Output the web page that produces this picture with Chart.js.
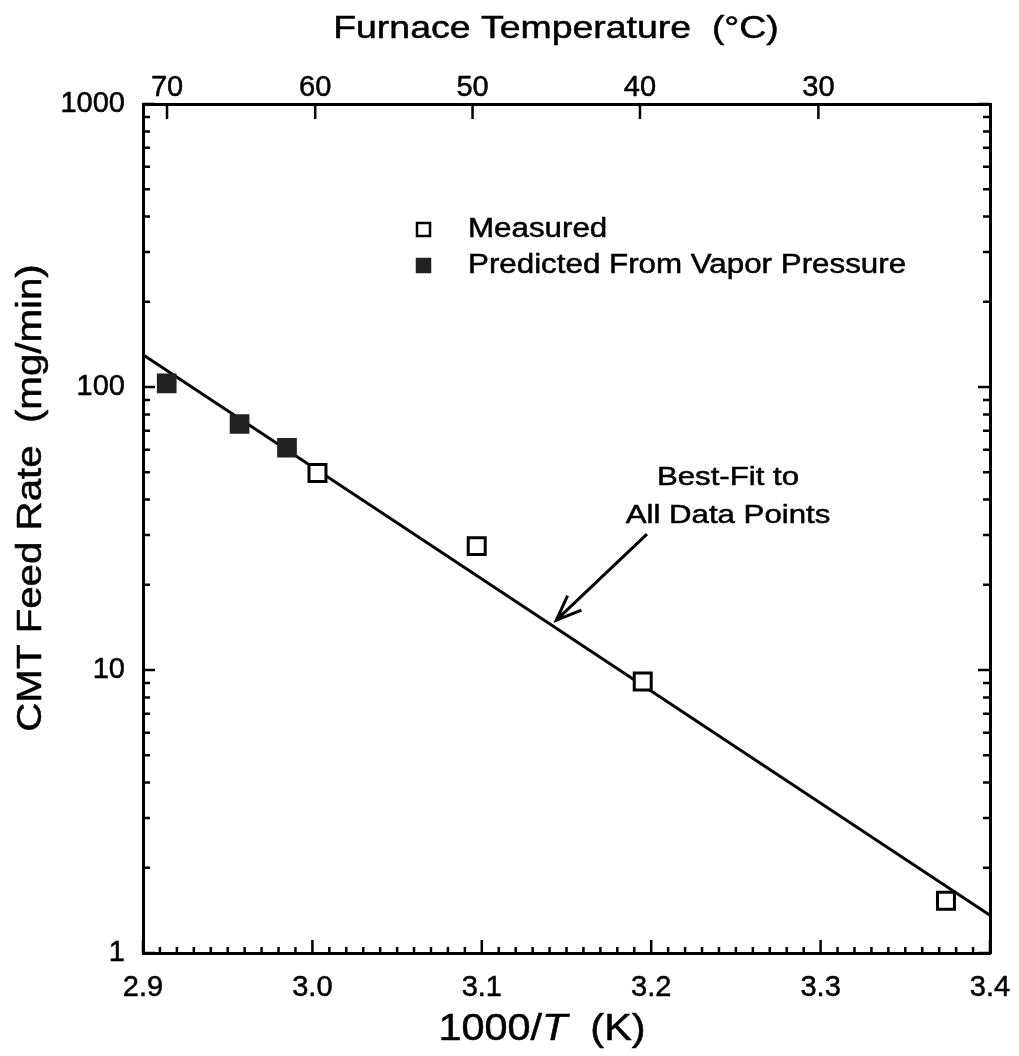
<!DOCTYPE html>
<html>
<head>
<meta charset="utf-8">
<script src="https://cdn.jsdelivr.net/npm/chart.js@4.4.1/dist/chart.umd.min.js"></script>
<style>
  html, body { margin: 0; padding: 0; background: #fff; }
  canvas { display: block; }
</style>
</head>
<body>
<canvas id="chart" width="1019" height="1056"></canvas>
<script>
// Data
const measuredX = [3.003, 3.097, 3.195, 3.374];
const measuredY = [49.7, 27.4, 9.1, 1.53];
const predictedX = [2.914, 2.957, 2.985];
const predictedY = [103, 74, 61];
const fitX = [2.9, 3.4];
const fitY = [130, 1.36];

// Tick labels
const xTickLabels = ['2.9', '3.0', '3.1', '3.2', '3.3', '3.4'];
const yTickLabels = ['1', '10', '100', '1000'];
const tempLabels = ['70', '60', '50', '40', '30'];

// Annotation arrow (data coords: tail, head)
const arrowTail = [3.1975, 30.2];
const arrowHead = [3.144, 15.0];

const FONT = '"Liberation Sans", Arial, sans-serif';

function toPoints(xs, ys) {
  return xs.map((x, i) => ({ x: x, y: ys[i] }));
}

// 1000/T (K) position of a temperature in degrees C
function tempToX(t) {
  return 1000 / (Number(t) + 273.15);
}

// the scanned lettering is wider and a bit heavier than Liberation Sans
function wideText(ctx, text, x, y, font, align, stretch) {
  ctx.save();
  ctx.translate(x, y);
  ctx.scale(stretch, 1);
  ctx.font = font;
  ctx.textAlign = align;
  ctx.textBaseline = 'middle';
  ctx.fillStyle = '#000';
  ctx.strokeStyle = '#000';
  ctx.lineWidth = 0.5;
  ctx.fillText(text, 0, 0);
  ctx.strokeText(text, 0, 0);
  ctx.restore();
}

/**
 * Inward tick marks, legend, axis titles and the arrow note
 */
const decorations = {
  id: 'decorations',
  afterDraw(chart) {
    const { ctx, chartArea: a, scales } = chart;
    const x = scales.x, xt = scales.xTop, y = scales.y;
    ctx.save();
    ctx.strokeStyle = '#000';
    ctx.fillStyle = '#000';
    ctx.lineWidth = 2.5;
    ctx.beginPath();

    // bottom axis: majors at labels, minors every tenth
    const xs = xTickLabels.map(Number);
    xs.forEach((v, i) => {
      const px = x.getPixelForValue(v);
      ctx.moveTo(px, a.bottom); ctx.lineTo(px, a.bottom - 13);
      if (i < xs.length - 1) {
        const step = (xs[i + 1] - v) / 10;
        for (let k = 1; k < 10; k++) {
          const pm = x.getPixelForValue(v + k * step);
          ctx.moveTo(pm, a.bottom); ctx.lineTo(pm, a.bottom - 6);
        }
      }
    });

    // top axis: furnace temperatures
    tempLabels.forEach(t => {
      const px = xt.getPixelForValue(tempToX(t));
      ctx.moveTo(px, a.top); ctx.lineTo(px, a.top + 15);
    });

    // left and right log axes
    const ys = yTickLabels.map(Number);
    ys.forEach((d, i) => {
      const py = y.getPixelForValue(d);
      ctx.moveTo(a.left, py); ctx.lineTo(a.left + 12, py);
      ctx.moveTo(a.right, py); ctx.lineTo(a.right - 12, py);
      if (i < ys.length - 1) {
        for (let k = 2; k < 10; k++) {
          const pm = y.getPixelForValue(d * k);
          ctx.moveTo(a.left, pm); ctx.lineTo(a.left + 7, pm);
          ctx.moveTo(a.right, pm); ctx.lineTo(a.right - 7, pm);
        }
      }
    });
    ctx.stroke();

    // legend
    const rows = [chart.data.datasets[1], chart.data.datasets[2]];
    rows.forEach((ds, i) => {
      const cy = 230 + i * 36;
      ctx.lineWidth = 2.5;
      ctx.fillStyle = ds.backgroundColor;
      ctx.strokeStyle = ds.borderColor;
      ctx.fillRect(417, cy - 7, 13, 13);
      ctx.strokeRect(417, cy - 7, 13, 13);
      wideText(ctx, ds.label, 468, cy, '27px ' + FONT, 'left', 1.16);
    });

    // best-fit note and arrow
    wideText(ctx, 'Best-Fit to', 728, 478, '26px ' + FONT, 'center', 1.2);
    wideText(ctx, 'All Data Points', 728, 516, '26px ' + FONT, 'center', 1.2);
    const tx = x.getPixelForValue(arrowTail[0]), ty = y.getPixelForValue(arrowTail[1]);
    const hx = x.getPixelForValue(arrowHead[0]), hy = y.getPixelForValue(arrowHead[1]);
    const ang = Math.atan2(ty - hy, tx - hx);
    ctx.lineWidth = 3;
    ctx.strokeStyle = '#000';
    ctx.beginPath();
    ctx.moveTo(tx, ty); ctx.lineTo(hx, hy);
    ctx.moveTo(hx + 27 * Math.cos(ang - 0.38), hy + 27 * Math.sin(ang - 0.38));
    ctx.lineTo(hx, hy);
    ctx.lineTo(hx + 27 * Math.cos(ang + 0.38), hy + 27 * Math.sin(ang + 0.38));
    ctx.stroke();

    // top title
    wideText(ctx, 'Furnace Temperature  (\u00B0C)', 556, 29, '32px ' + FONT, 'center', 1.17);

    // bottom title with italic T
    const stretch = 1.15;
    const p1 = '1000/', p2 = 'T', p3 = '  (K)';
    ctx.font = '36px ' + FONT;
    const w1 = ctx.measureText(p1).width, w3 = ctx.measureText(p3).width;
    ctx.font = 'italic 36px ' + FONT;
    const w2 = ctx.measureText(p2).width;
    const sx = 542 - (w1 + w2 + w3) * stretch / 2;
    wideText(ctx, p1, sx, 1030, '36px ' + FONT, 'left', stretch);
    wideText(ctx, p2, sx + w1 * stretch, 1030, 'italic 36px ' + FONT, 'left', stretch);
    wideText(ctx, p3, sx + (w1 + w2) * stretch, 1030, '36px ' + FONT, 'left', stretch);

    // left title, rotated
    ctx.translate(31, 498);
    ctx.rotate(-Math.PI / 2);
    wideText(ctx, 'CMT Feed Rate  (mg/min)', 0, 0, '35px ' + FONT, 'center', 1.15);
    ctx.restore();
  }
};

const tickFont = { family: FONT, size: 29 };

const chart = new Chart(document.getElementById('chart'), {
  data: {
    datasets: [
      {
        type: 'line',
        label: 'Best-Fit to All Data Points',
        data: toPoints(fitX, fitY),
        borderColor: '#000',
        borderWidth: 3,
        pointRadius: 0,
        order: 3
      },
      {
        type: 'scatter',
        label: 'Measured',
        data: toPoints(measuredX, measuredY),
        pointStyle: 'rect',
        pointRadius: 12,
        backgroundColor: '#fff',
        borderColor: '#000',
        borderWidth: 3,
        order: 1
      },
      {
        type: 'scatter',
        label: 'Predicted From Vapor Pressure',
        data: toPoints(predictedX, predictedY),
        pointStyle: 'rect',
        pointRadius: 12.5,
        backgroundColor: '#222',
        borderColor: '#222',
        borderWidth: 2,
        order: 2
      }
    ]
  },
  options: {
    responsive: false,
    animation: false,
    devicePixelRatio: 1,
    layout: { padding: 0 },
    plugins: {
      legend: { display: false },
      tooltip: { enabled: false }
    },
    scales: {
      x: {
        type: 'linear',
        position: 'bottom',
        min: 2.9,
        max: 3.4,
        afterBuildTicks: s => { s.ticks = xTickLabels.map(v => ({ value: Number(v) })); },
        afterFit: s => { s.height = 103; s.paddingLeft = 0; s.paddingRight = 0; },
        grid: { display: false, drawTicks: false },
        border: { display: true, color: '#000', width: 3 },
        ticks: {
          autoSkip: false, maxRotation: 0, padding: 18, color: '#000', font: tickFont,
          textStrokeColor: '#000', textStrokeWidth: 0.5,
          callback: (v, i) => xTickLabels[i]
        }
      },
      xTop: {
        type: 'linear',
        position: 'top',
        min: 2.9,
        max: 3.4,
        afterBuildTicks: s => { s.ticks = tempLabels.map(t => ({ value: tempToX(t) })); },
        afterFit: s => { s.height = 104; s.paddingLeft = 0; s.paddingRight = 0; },
        grid: { display: false, drawTicks: false },
        border: { display: true, color: '#000', width: 3 },
        ticks: {
          autoSkip: false, maxRotation: 0, padding: -1, color: '#000', font: tickFont,
          textStrokeColor: '#000', textStrokeWidth: 0.5,
          callback: (v, i) => tempLabels[i]
        }
      },
      y: {
        type: 'logarithmic',
        position: 'left',
        min: 1,
        max: 1000,
        afterBuildTicks: s => { s.ticks = yTickLabels.map(v => ({ value: Number(v) })); },
        afterFit: s => { s.width = 143; s.paddingTop = 0; s.paddingBottom = 0; },
        grid: { display: false, drawTicks: false },
        border: { display: true, color: '#000', width: 3 },
        ticks: {
          autoSkip: false, padding: 18, color: '#000', font: tickFont,
          textStrokeColor: '#000', textStrokeWidth: 0.5,
          callback: (v, i) => yTickLabels[i]
        }
      },
      yRight: {
        type: 'logarithmic',
        position: 'right',
        min: 1,
        max: 1000,
        afterFit: s => { s.width = 29; },
        grid: { display: false, drawTicks: false },
        border: { display: true, color: '#000', width: 3 },
        ticks: { display: false }
      }
    }
  },
  plugins: [decorations]
});
</script>
</body>
</html>
